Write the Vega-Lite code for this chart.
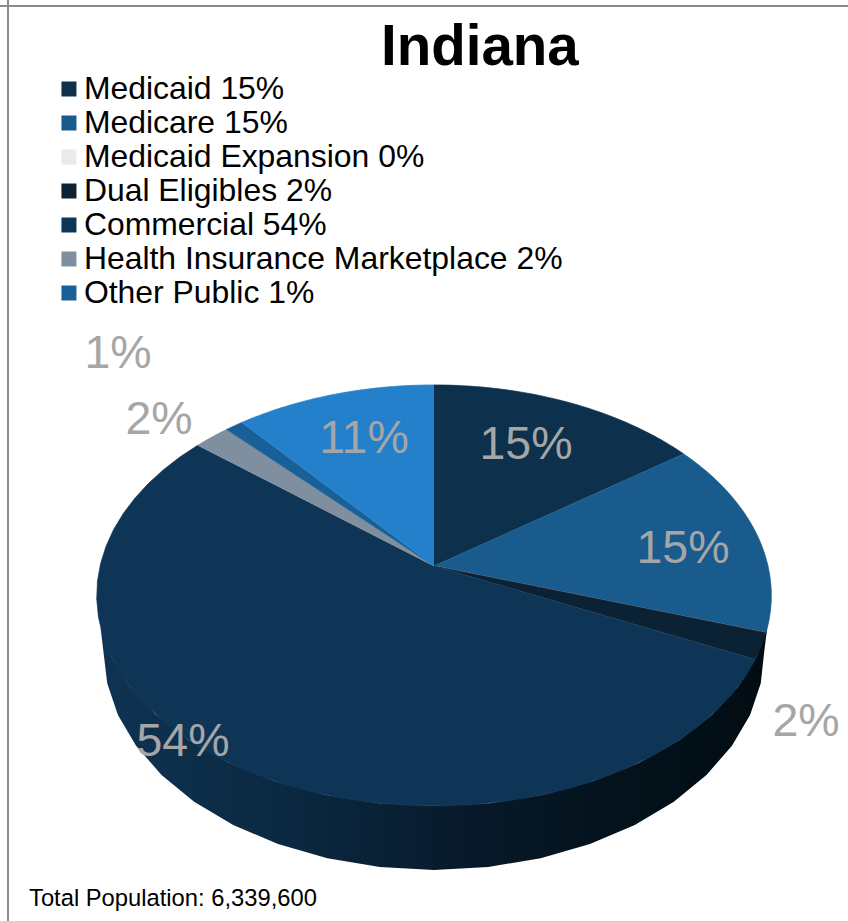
{
  "$schema": "https://vega.github.io/schema/vega-lite/v6.json",
  "width": 848,
  "height": 921,
  "autosize": "none",
  "padding": 0,
  "background": "white",
  "view": {"stroke": null},
  "datasets": {
    "slices": [
      {"rank": 1, "series": "Medicaid 15%", "share": 15},
      {"rank": 2, "series": "Medicare 15%", "share": 15},
      {"rank": 3, "series": "Medicaid Expansion 0%", "share": 0},
      {"rank": 4, "series": "Dual Eligibles 2%", "share": 2},
      {"rank": 5, "series": "Commercial 54%", "share": 54},
      {"rank": 6, "series": "Health Insurance Marketplace 2%", "share": 2},
      {"rank": 7, "series": "Other Public 1%", "share": 1},
      {"rank": 8, "series": "Remainder 11%", "share": 11}
    ],
    "sideWall": [{"arcStart": 98, "arcEnd": 262}],
    "percentLabels": [
      {"text": "15%", "x": 526, "y": 445},
      {"text": "15%", "x": 683, "y": 549},
      {"text": "2%", "x": 806, "y": 722},
      {"text": "54%", "x": 183, "y": 742},
      {"text": "2%", "x": 159, "y": 420},
      {"text": "1%", "x": 118, "y": 354},
      {"text": "11%", "x": 364, "y": 439}
    ],
    "heading": [{"text": "Indiana", "x": 381, "y": 65}],
    "footnote": [{"text": "Total Population: 6,339,600", "x": 29, "y": 899}]
  },
  "layer": [
    {
      "data": {"values": [{"edge": 8}]},
      "mark": {"type": "rule", "stroke": "#8c8c8c", "strokeWidth": 2},
      "encoding": {"x": {"field": "edge", "type": "quantitative", "scale": {"domain": [0, 848], "nice": false, "zero": false}, "axis": null}}
    },
    {
      "data": {"values": [{"edge": 6}]},
      "mark": {"type": "rule", "stroke": "#8c8c8c", "strokeWidth": 2},
      "encoding": {"y": {"field": "edge", "type": "quantitative", "scale": {"domain": [921, 0], "nice": false, "zero": false}, "axis": null}}
    },
    {
      "data": {"name": "sideWall"},
      "transform": [
        {"calculate": "[0,0.05,0.1,0.15,0.2,0.25,0.3,0.35,0.4,0.45,0.5,0.55,0.6,0.65,0.7,0.75,0.8,0.85,0.9,0.95,1,1.05,1.1,1.15,1.2,1.25,1.3,1.35,1.4,1.45,1.5,1.55,1.6,1.65,1.7,1.75,1.8,1.85,1.9,1.95,2]", "as": "step"},
        {"flatten": ["step"]},
        {"calculate": "PI / 180 * (datum.arcStart + (datum.arcEnd - datum.arcStart) * (datum.step <= 1 ? datum.step : 2 - datum.step))", "as": "theta"},
        {"calculate": "1 + 0.14 * cos(datum.theta)", "as": "w"},
        {"calculate": "434 + (datum.step > 1 ? 327 : 334) * sin(datum.theta) / datum.w", "as": "px"},
        {"calculate": "566 + ((datum.step > 1 ? 55 : 0) - 206.4 * cos(datum.theta)) / datum.w", "as": "py"}
      ],
      "mark": {
        "type": "line",
        "strokeWidth": 0,
        "fill": {
          "gradient": "linear",
          "x1": 0, "y1": 0, "x2": 1, "y2": 0,
          "stops": [
            {"offset": 0, "color": "#0f3353"},
            {"offset": 0.3, "color": "#0a2840"},
            {"offset": 0.55, "color": "#07192a"},
            {"offset": 0.75, "color": "#04131d"},
            {"offset": 1, "color": "#020c12"}
          ]
        }
      },
      "encoding": {
        "x": {"field": "px", "type": "quantitative", "scale": {"domain": [0, 848], "nice": false, "zero": false}, "axis": null},
        "y": {"field": "py", "type": "quantitative", "scale": {"domain": [921, 0], "nice": false, "zero": false}, "axis": null},
        "order": {"field": "step", "type": "quantitative"}
      }
    },
    {
      "data": {"name": "slices"},
      "transform": [
        {"window": [{"op": "sum", "field": "share", "as": "upto"}], "sort": [{"field": "rank"}]},
        {"calculate": "[-1,0,0.025,0.05,0.075,0.1,0.125,0.15,0.175,0.2,0.225,0.25,0.275,0.3,0.325,0.35,0.375,0.4,0.425,0.45,0.475,0.5,0.525,0.55,0.575,0.6,0.625,0.65,0.675,0.7,0.725,0.75,0.775,0.8,0.825,0.85,0.875,0.9,0.925,0.95,0.975,1]", "as": "step"},
        {"flatten": ["step"]},
        {"calculate": "2 * PI / 100 * (datum.upto - datum.share + datum.share * max(datum.step, 0))", "as": "theta"},
        {"calculate": "datum.step < 0 ? 0 : 1", "as": "reach"},
        {"calculate": "1 + 0.14 * datum.reach * cos(datum.theta)", "as": "w"},
        {"calculate": "434 + 334 * datum.reach * sin(datum.theta) / datum.w", "as": "px"},
        {"calculate": "566 - 206.4 * datum.reach * cos(datum.theta) / datum.w", "as": "py"}
      ],
      "mark": {"type": "line", "strokeWidth": 0.7},
      "encoding": {
        "x": {"field": "px", "type": "quantitative", "scale": {"domain": [0, 848], "nice": false, "zero": false}, "axis": null},
        "y": {"field": "py", "type": "quantitative", "scale": {"domain": [921, 0], "nice": false, "zero": false}, "axis": null},
        "order": {"field": "step", "type": "quantitative"},
        "stroke": {
          "field": "series",
          "type": "nominal",
          "scale": {
            "domain": ["Medicaid 15%", "Medicare 15%", "Medicaid Expansion 0%", "Dual Eligibles 2%", "Commercial 54%", "Health Insurance Marketplace 2%", "Other Public 1%", "Remainder 11%"],
            "range": ["#0d304c", "#195b8d", "#e8eaec", "#0b2234", "#0f3556", "#7f8fa0", "#1a6098", "#2580cb"]
          },
          "legend": null
        },
        "fill": {
          "field": "series",
          "type": "nominal",
          "scale": {
            "domain": ["Medicaid 15%", "Medicare 15%", "Medicaid Expansion 0%", "Dual Eligibles 2%", "Commercial 54%", "Health Insurance Marketplace 2%", "Other Public 1%", "Remainder 11%"],
            "range": ["#0d304c", "#195b8d", "#e8eaec", "#0b2234", "#0f3556", "#7f8fa0", "#1a6098", "#2580cb"]
          },
          "legend": {
            "values": ["Medicaid 15%", "Medicare 15%", "Medicaid Expansion 0%", "Dual Eligibles 2%", "Commercial 54%", "Health Insurance Marketplace 2%", "Other Public 1%"],
            "title": null,
            "orient": "none",
            "legendX": 53,
            "legendY": 72,
            "symbolType": "square",
            "symbolSize": 225,
            "symbolStrokeWidth": 0,
            "clipHeight": 34,
            "rowPadding": 0,
            "padding": 0,
            "labelOffset": -1,
            "labelLimit": 700,
            "labelFont": "Liberation Sans",
            "labelFontSize": 31.9,
            "labelColor": "#000000"
          }
        }
      }
    },
    {
      "data": {"name": "percentLabels"},
      "mark": {"type": "text", "font": "Liberation Sans", "fontSize": 46.5, "color": "#a6a6a6", "align": "center", "baseline": "middle"},
      "encoding": {
        "x": {"field": "x", "type": "quantitative", "scale": {"domain": [0, 848], "nice": false, "zero": false}, "axis": null},
        "y": {"field": "y", "type": "quantitative", "scale": {"domain": [921, 0], "nice": false, "zero": false}, "axis": null},
        "text": {"field": "text"}
      }
    },
    {
      "data": {"name": "heading"},
      "mark": {"type": "text", "font": "Liberation Sans", "fontSize": 56.5, "fontWeight": "bold", "color": "#000000", "align": "left", "baseline": "alphabetic"},
      "encoding": {
        "x": {"field": "x", "type": "quantitative", "scale": {"domain": [0, 848], "nice": false, "zero": false}, "axis": null},
        "y": {"field": "y", "type": "quantitative", "scale": {"domain": [921, 0], "nice": false, "zero": false}, "axis": null},
        "text": {"field": "text"}
      }
    },
    {
      "data": {"name": "footnote"},
      "mark": {"type": "text", "font": "Liberation Sans", "fontSize": 23.75, "color": "#000000", "align": "left", "baseline": "middle"},
      "encoding": {
        "x": {"field": "x", "type": "quantitative", "scale": {"domain": [0, 848], "nice": false, "zero": false}, "axis": null},
        "y": {"field": "y", "type": "quantitative", "scale": {"domain": [921, 0], "nice": false, "zero": false}, "axis": null},
        "text": {"field": "text"}
      }
    }
  ]
}
